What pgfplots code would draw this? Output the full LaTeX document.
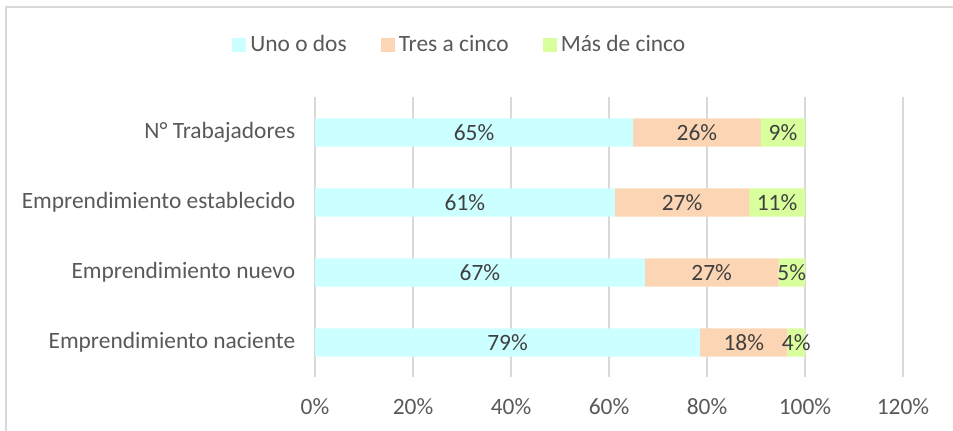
\documentclass[border=0pt]{standalone}
\usepackage{fontspec}
\setmainfont{Carlito}
\usepackage{pgfplots}
\usepackage{pgfplotstable}
\pgfplotsset{compat=1.18}
\definecolor{cuno}{HTML}{CCFFFF}
\definecolor{ctres}{HTML}{FCD5B4}
\definecolor{cmas}{HTML}{D9FF9C}
\definecolor{txtgray}{HTML}{595959}
\definecolor{lblgray}{HTML}{404040}
\definecolor{gridgray}{HTML}{D9D9D9}
\newcommand{\chartfont}{\fontsize{11.7}{14}\selectfont}

% segment shares per category (pos 0 = bottom bar)
\pgfplotstableread{
pos uno tres mas
0 78.6 17.8 3.6
1 67.3 27.3 5.4
2 61.2 27.4 11.4
3 64.9 26.1 9.0
}\emprendimiento

\begin{document}
\begin{tikzpicture}
\useasboundingbox (0,0) rectangle (476.5pt,215.5pt);
\draw[gridgray, line width=1pt] (3pt,0) -- (3pt,212pt) -- (476.5pt,212pt);
\begin{axis}[
  at={(157.5pt,26.75pt)}, anchor=south west,
  scale only axis, width=294pt, height=140pt,
  xbar stacked, bar width=14.2pt,
  xmin=0, xmax=120, ymin=-0.5, ymax=3.5,
  xtick={0,20,...,120}, ytick={0,1,2,3},
  yticklabels={Emprendimiento naciente, Emprendimiento nuevo, Emprendimiento establecido, N° Trabajadores},
  xticklabel={\pgfmathprintnumber{\tick}\%},
  /pgf/number format/assume math mode=true,
  xticklabel style={font=\chartfont, text=txtgray, anchor=base, yshift=-18.75pt},
  yticklabel style={font=\chartfont, text=txtgray, inner sep=0pt, xshift=-9.7pt},
  axis line style={draw=none}, major tick length=0pt,
  xmajorgrids, major grid style={gridgray, line width=0.8pt},
  % stacked bars: pgfplots already centres these in each segment
  nodes near coords={\pgfmathprintnumber[fixed,precision=0]{\pgfplotspointmeta}\%},
  nodes near coords style={font=\chartfont, text=lblgray, anchor=center},
  legend style={at={(0.248,1.1875)}, anchor=center, draw=none, fill=none,
    legend columns=-1, font=\chartfont, text=txtgray,
    /tikz/every even column/.append style={column sep=15pt}},
  legend image code/.code={\fill[#1] (0pt,-3.5pt) rectangle (7pt,3.5pt);},
]
\addplot+[fill=cuno, draw=none, point meta=\thisrow{uno}]
  table[x=uno, y=pos] {\emprendimiento};
\addplot+[fill=ctres, draw=none, point meta=\thisrow{tres}]
  table[x=tres, y=pos] {\emprendimiento};
\addplot+[fill=cmas, draw=none, point meta=\thisrow{mas}]
  table[x=mas, y=pos] {\emprendimiento};
\legend{Uno o dos, Tres a cinco, Más de cinco}
\end{axis}
\end{tikzpicture}
\end{document}
